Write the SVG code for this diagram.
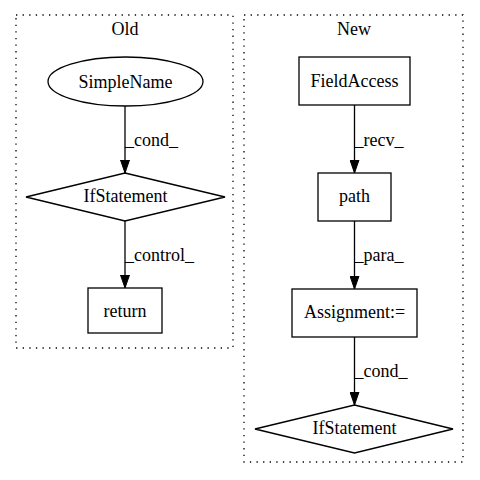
<svg xmlns="http://www.w3.org/2000/svg" width="480" height="480" viewBox="0 0 480 480">
<style>
text{font-family:"Liberation Serif","Times New Roman",serif;font-size:18px;fill:#000}
.c{text-anchor:middle}
.n{fill:#fff;stroke:#000;stroke-width:1.3}
.cl{fill:none;stroke:#000;stroke-width:1.3;stroke-dasharray:1.3,5.3}
.e{fill:none;stroke:#000;stroke-width:1.3}
</style>
<defs>
<marker id="ah" markerWidth="13" markerHeight="10" refX="13" refY="5" viewBox="0 0 13 10" markerUnits="userSpaceOnUse" orient="auto">
<polygon points="0,0.5 13,5 0,9.5" fill="#000" stroke="#000" stroke-width="1"/>
</marker>
</defs>
<rect width="480" height="480" fill="#fff"/>
<g id="cluster_old">
<rect class="cl" x="16" y="15" width="217" height="333"/>
<text class="c" x="125" y="35">Old</text>
</g>
<g id="cluster_new">
<rect class="cl" x="244" y="15" width="219" height="447"/>
<text class="c" x="354" y="35">New</text>
</g>
<g id="edges">
<line class="e" x1="125" y1="106" x2="125" y2="173" marker-end="url(#ah)"/>
<text x="125" y="146">_cond_</text>
<line class="e" x1="125" y1="221" x2="125" y2="288" marker-end="url(#ah)"/>
<text x="125" y="261">_control_</text>
<line class="e" x1="354.5" y1="105" x2="354.5" y2="173" marker-end="url(#ah)"/>
<text x="354.5" y="146">_recv_</text>
<line class="e" x1="354.5" y1="221" x2="354.5" y2="289" marker-end="url(#ah)"/>
<text x="354.5" y="261">_para_</text>
<line class="e" x1="354.5" y1="337" x2="354.5" y2="405" marker-end="url(#ah)"/>
<text x="354.5" y="377">_cond_</text>
</g>
<g id="SimpleName">
<ellipse class="n" cx="125.5" cy="81.5" rx="77.5" ry="24.5"/>
<text class="c" x="125.5" y="87.5">SimpleName</text>
</g>
<g id="IfStatement_old">
<polygon class="n" points="125,173 225,197 125,221 26,197"/>
<text class="c" x="125.5" y="202">IfStatement</text>
</g>
<g id="return">
<rect class="n" x="88" y="288" width="74" height="45"/>
<text class="c" x="125" y="317">return</text>
</g>
<g id="FieldAccess">
<rect class="n" x="299" y="57" width="111" height="48"/>
<text class="c" x="354.5" y="87">FieldAccess</text>
</g>
<g id="path">
<rect class="n" x="318" y="173" width="73" height="48"/>
<text class="c" x="354.5" y="202">path</text>
</g>
<g id="Assignment">
<rect class="n" x="292" y="289" width="125" height="48"/>
<text class="c" x="354.5" y="318">Assignment:=</text>
</g>
<g id="IfStatement_new">
<polygon class="n" points="354.5,405 453,429 354.5,453 255,429"/>
<text class="c" x="354.5" y="434">IfStatement</text>
</g>
</svg>
